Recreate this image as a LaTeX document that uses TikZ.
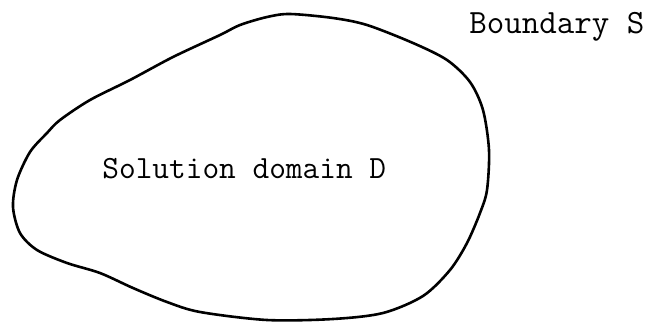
\documentclass[tikz,border=0pt]{standalone}
\begin{document}
\begin{tikzpicture}[x=0.5pt,y=-0.5pt,
  lbl/.style={inner sep=0pt, anchor=base west},
  bnd/.style={line width=1.3pt, line join=round}]
\useasboundingbox (0,0) rectangle (652,322);
\draw[bnd] plot[smooth cycle, tension=0.5] coordinates {
 (290,14) (333,18) (367,25) (413,43) (447,60) (470,82) (483,110) (489,150)
 (487,190) (480,213) (467,243) (450,270) (423,296) (383,313) (333,319)
 (267,320) (200,312) (167,302) (133,288) (100,273) (67,263) (37,250)
 (20,233) (13,207) (17,180) (30,152) (47,133) (60,120) (90,100) (130,80)
 (173,57) (220,35) (240,25) (267,17)};
\node[lbl, font=\fontsize{17}{20}\ttfamily] (bs) at (469,33) {Boundary S};
\node[lbl, font=\fontsize{16.2}{19}\ttfamily] (sd) at (102,178) {Solution domain D};
\end{tikzpicture}
\end{document}
